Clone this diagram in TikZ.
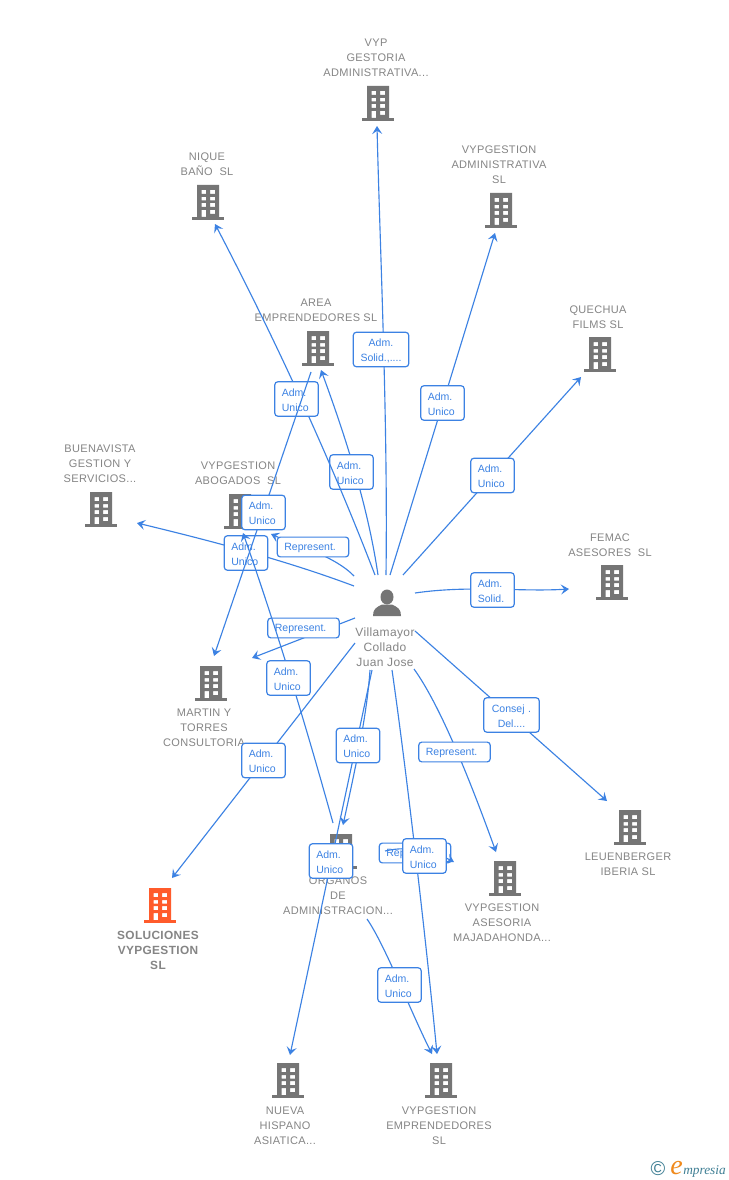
\documentclass[tikz,border=0pt]{standalone}
\usepackage{fontspec}
\setmainfont{Liberation Sans}
\newfontfamily\lblfont[LetterSpace=3]{Liberation Sans}
\newfontfamily\logofont{Liberation Serif}
\usetikzlibrary{arrows.meta}
\definecolor{linkblue}{HTML}{3C82E3}
\definecolor{iconblk}{HTML}{757575}
\definecolor{iconred}{HTML}{FF5B2B}
\definecolor{lblgray}{HTML}{858585}
\definecolor{logoteal}{HTML}{3F7F94}
\definecolor{logoorange}{HTML}{F08A1D}
\newcommand\lowr[1]{\raisebox{-0.8pt}[\height][\depth]{#1}}
\newcommand\adu{\lowr{Adm.}\\\lowr{Unico}}
\tikzset{
  x=0.75pt,y=-0.75pt,
  conn/.style={draw=linkblue,line width=0.85pt},
  tip/.style={-{Stealth[length=6pt,width=7.5pt,inset=2.4pt]}},
  boxbase/.style={draw=linkblue,fill=white,line width=0.9pt,rounded corners=2.2pt,text=linkblue,
     font=\fontsize{7.9pt}{11.25pt}\selectfont,inner sep=0pt,outer sep=0pt,anchor=center},
  small/.style={boxbase,minimum width=32.5pt,minimum height=25.8pt,text width=22pt,align=left},
  wide/.style={boxbase,minimum width=41.5pt,minimum height=25.8pt,text width=38pt,align=center},
  rep/.style={boxbase,minimum width=53.5pt,minimum height=14.8pt,text width=43pt,align=left},
  lbl/.style={text=lblgray,font=\fontsize{8.25pt}{11.25pt}\selectfont\lblfont,align=center,inner sep=0pt,anchor=north},
  lblb/.style={text=lblgray,font=\fontsize{8.9pt}{11.25pt}\selectfont\lblfont\bfseries,align=center,inner sep=0pt,anchor=north},
}
\newcommand\bldg[3]{%
  \coordinate (#1) at (#2);
  \begin{scope}[shift={(#2)}]
    \fill[#3,even odd rule]
      (-11,-18) rectangle (11,14)
      (-6.5,-13) rectangle (-2,-9) (2,-13) rectangle (7,-9)
      (-6.5,-6) rectangle (-2,-2.5) (2,-6) rectangle (7,-2.5)
      (-6.5,0) rectangle (-2,4) (2,0) rectangle (7,4)
      (-6.5,7) rectangle (-2,14) (2,7) rectangle (7,11);
    \fill[#3] (-16,14) rectangle (16,17);
  \end{scope}}
\begin{document}
\begin{tikzpicture}
\useasboundingbox (0,0) rectangle (728,1180);
\fill[white] (0,0) rectangle (728,1180);
% buildings
\bldg{bVyp}{378,104}{iconblk}
\bldg{bNique}{208,203}{iconblk}
\bldg{bAdmin}{501,211}{iconblk}
\bldg{bArea}{318,349}{iconblk}
\bldg{bQuechua}{600,355}{iconblk}
\bldg{bBuena}{101,510}{iconblk}
\bldg{bAbog}{240,512}{iconblk}
\bldg{bFemac}{612,583}{iconblk}
\bldg{bMartin}{211,684}{iconblk}
\bldg{bLeuen}{630,828}{iconblk}
\bldg{bAses}{505,879}{iconblk}
\bldg{bOrg}{341,852}{iconblk}
\bldg{bSol}{160,906}{iconred}
\bldg{bNueva}{288,1081}{iconblk}
\bldg{bEmpr}{441,1081}{iconblk}
% labels
\node[lbl] (tVyp) at (376,39) {VYP\\GESTORIA\\ADMINISTRATIVA...};
\node[lbl] (tNique) at (207,153) {NIQUE\\BAÑO\ \ SL};
\node[lbl] (tAdmin) at (499,146) {VYPGESTION\\ADMINISTRATIVA\\SL};
\node[lbl] (tArea) at (316,299) {AREA\\EMPRENDEDORES SL};
\node[lbl] (tQuechua) at (598,306) {QUECHUA\\FILMS SL};
\node[lbl] (tBuena) at (100,445) {BUENAVISTA\\GESTION Y\\SERVICIOS...};
\node[lbl] (tAbog) at (238,462) {VYPGESTION\\ABOGADOS\ \ SL};
\node[lbl] (tFemac) at (610,534) {FEMAC\\ASESORES\ \ SL};
\node[lbl] (tMartin) at (204,709) {MARTIN Y\\TORRES\\CONSULTORIA};
\node[lbl] (tLeuen) at (628,853) {LEUENBERGER\\IBERIA SL};
\node[lbl] (tAses) at (502,904) {VYPGESTION\\ASESORIA\\MAJADAHONDA...};
\node[lbl] (tOrg) at (338,877) {ORGANOS\\DE\\ADMINISTRACION...};
\node[lblb] (tSol) at (158,931) {SOLUCIONES\\VYPGESTION\\SL};
\node[lbl] (tNueva) at (285,1107) {NUEVA\\HISPANO\\ASIATICA...};
\node[lbl] (tEmpr) at (439,1107) {VYPGESTION\\EMPRENDEDORES\\SL};
% person
\fill[iconblk] (387,597) ellipse [x radius=6.5,y radius=7.5];
\fill[iconblk] (373,616) .. controls (373,609) and (376,607.5) .. (382,604.5) -- (392,604.5)
   .. controls (398,607.5) and (401,609) .. (401,616) -- cycle;
\node[text=lblgray,font=\fontsize{9pt}{11.25pt}\selectfont\lblfont,align=center,inner sep=0pt,anchor=north] (person) at (385,628) {Villamayor\\Collado\\Juan Jose};
% connector ends
\coordinate (s1) at (386,575); \coordinate (e1) at (377,126);
\coordinate (s2) at (390,575); \coordinate (e2) at (495,233);
\coordinate (s3) at (403,575); \coordinate (e3) at (581,377);
\coordinate (s4) at (415,593); \coordinate (e4) at (569,589);
\coordinate (s5) at (415,631); \coordinate (e5) at (607,801);
\coordinate (s6) at (414,669); \coordinate (e6) at (496,852);
\coordinate (s7) at (392,670); \coordinate (e7) at (437,1054);
\coordinate (s8) at (370,670); \coordinate (e8) at (343,825);
\coordinate (s9) at (372,670); \coordinate (e9) at (290,1055);
\coordinate (s10) at (367,919); \coordinate (e10) at (432,1054);
\coordinate (s11) at (333,823); \coordinate (e11) at (243,533);
\coordinate (s12) at (355,643); \coordinate (e12) at (172,878);
\coordinate (s13) at (355,618); \coordinate (e13) at (252,658);
\coordinate (s14) at (311,372); \coordinate (e14) at (214,656);
\coordinate (s15) at (378,575); \coordinate (e15) at (321,370);
\coordinate (s16) at (375,575); \coordinate (e16) at (215,224);
\coordinate (s17) at (354,586); \coordinate (e17) at (137,523);
\coordinate (s18) at (354,576); \coordinate (e18) at (271,534);
\coordinate (s19) at (385,851); \coordinate (e19) at (454,862);
% connectors and their labels, lowest first
\draw[conn,tip] (s17) .. controls (290,562) and (220,543) .. (e17);
\node[small] (b17) at (246,553) {\adu};
\draw[conn,tip] (s18) .. controls (335,556) and (295,545) .. (e18);
\node[rep] (b18) at (313,547) {\lowr{Represent.}};
\draw[conn,tip] (s13) -- (e13);
\node[rep] (b13) at (303.5,628) {\lowr{Represent.}};
\draw[conn,tip] (s15) .. controls (368,507) and (346,438) .. (e15);
\node[small] (b15) at (351.5,472) {\adu};
\draw[conn,tip] (s16) .. controls (330,458) and (276,341) .. (e16);
\node[small] (b16) at (296.5,399) {\adu};
\draw[conn,tip] (s14) -- (e14);
\node[small] (b14) at (263.5,512.5) {\adu};
\draw[conn,tip] (s11) .. controls (306,726) and (277,630) .. (e11);
\node[small] (b11) at (288.5,678) {\adu};
\draw[conn,tip] (s12) -- (e12);
\node[small] (b12) at (263.5,760.5) {\adu};
\draw[conn,tip] (s1) .. controls (388,420) and (380,250) .. (e1);
\node[wide] (b1) at (381,349.5) {\lowr{Adm.}\\\lowr{Solid.,....}};
\draw[conn,tip] (s2) .. controls (410,510) and (450,380) .. (e2);
\node[small] (b2) at (442.5,403) {\adu};
\draw[conn,tip] (s3) -- (e3);
\node[small] (b3) at (492.5,475.5) {\adu};
\draw[conn,tip] (s4) .. controls (470,585) and (520,592) .. (e4);
\node[small] (b4) at (492.5,590) {\lowr{Adm.}\\\lowr{Solid.}};
\draw[conn,tip] (s5) -- (e5);
\node[wide] (b5) at (511.5,715) {\lowr{Consej .}\\\lowr{Del....}};
\draw[conn,tip] (s6) .. controls (440,705) and (470,780) .. (e6);
\node[rep] (b6) at (454.5,752) {\lowr{Represent.}};
\draw[conn,tip] (s8) .. controls (367,715) and (355,770) .. (e8);
\draw[conn,tip] (s9) -- (e9);
\node[small] (b8) at (358,745.5) {\adu};
\node[small] (b9) at (331,861) {\adu};
\draw[conn,tip] (s10) .. controls (385,945) and (410,1010) .. (e10);
\node[small] (b10) at (399.5,985) {\adu};
\node[rep] (b19) at (415,853) {\lowr{Represent.}};
\draw[conn,tip] (s19) .. controls (410,845) and (435,852) .. (e19);
\draw[conn,tip] (s7) .. controls (405,760) and (425,930) .. (e7);
\node[small] (b7) at (424.5,856) {\adu};
% logo
\node[inner sep=0pt,text=logoteal,font=\fontsize{15pt}{15pt}\selectfont] (logoC) at (658,1169) {©};
\node[inner sep=0pt,anchor=base west,text=logoorange,font=\fontsize{21pt}{21pt}\selectfont\logofont\itshape] (logoE) at (670,1174) {e};
\node[inner sep=0pt,anchor=base west,text=logoteal,font=\fontsize{10pt}{10pt}\selectfont\logofont\itshape] (logoT) at (683,1174) {mpresia};
\end{tikzpicture}
\end{document}
